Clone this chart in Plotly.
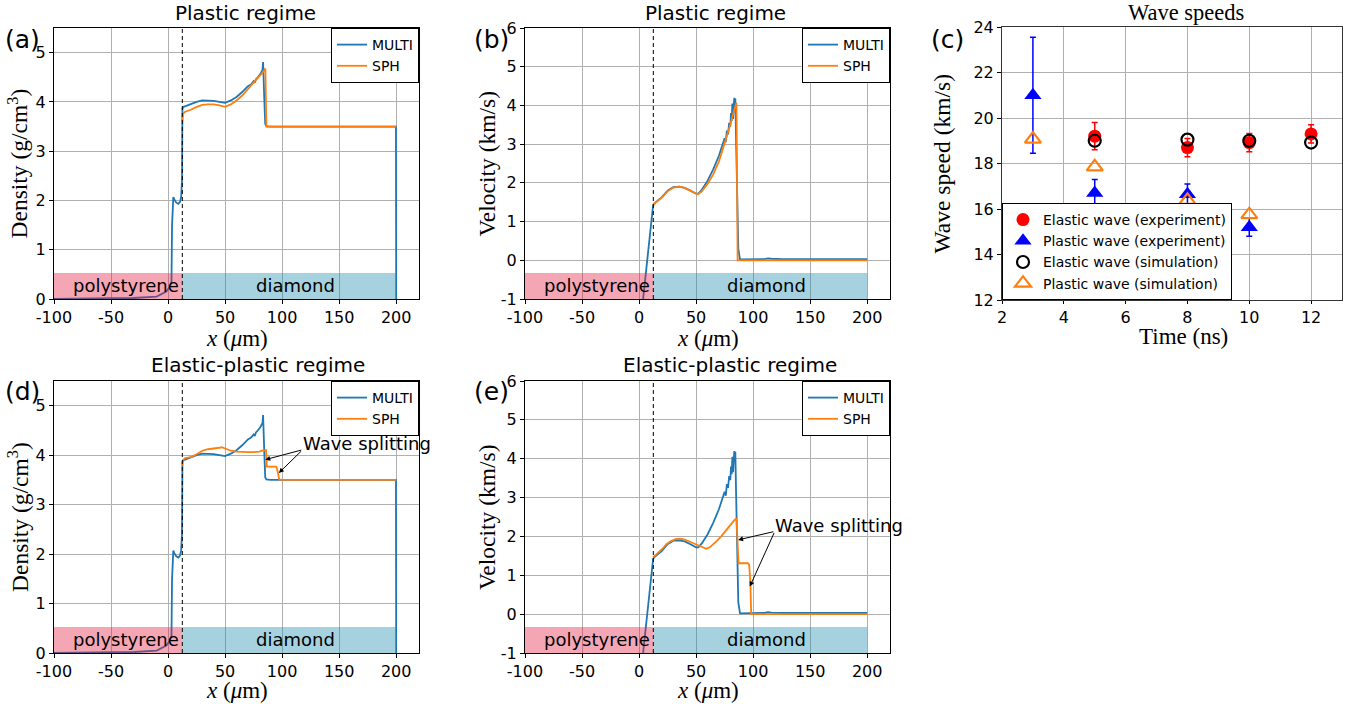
import plotly.graph_objects as go

# ---------------- data: panels (a)/(d) density ----------------
x_multi_rho = [-100, -60, -30, -10, -1.5, 1.5, 3.0, 3.5, 4.0, 4.6, 5.5, 7, 9, 10.5, 11.5, 12.2,
               12.6, 13.5, 16, 20, 25, 30, 35, 40, 45, 50, 55, 60, 65, 70, 73, 75, 76, 77, 78,
               79, 80, 81, 82, 82.8, 83.3, 83.7, 84.3, 85.2, 86.2, 90, 110, 150, 199.8, 200]
rho_multi = [0.0, 0.01, 0.02, 0.05, 0.15, 0.25, 0.35, 1.5, 2.02, 2.07, 2.02, 1.96, 1.93, 1.97, 2.08, 2.4,
             3.86, 3.9, 3.92, 3.96, 4.0, 4.03, 4.03, 4.02, 4.0, 3.98, 4.03, 4.1, 4.2, 4.32, 4.36, 4.42, 4.39, 4.46, 4.48,
             4.5, 4.54, 4.57, 4.62, 4.65, 4.81, 4.62, 4.1, 3.55, 3.51, 3.5, 3.5, 3.5, 3.5, 0.0]

x_sph_rho_a = [12.5, 13.0, 15, 20, 25, 30, 35, 40, 45, 50, 55, 60, 65, 70, 75, 80, 83, 85.3, 86.2, 100, 200]
rho_sph_a = [3.6, 3.76, 3.8, 3.84, 3.9, 3.94, 3.95, 3.95, 3.93, 3.9, 3.95, 4.03, 4.13, 4.26, 4.38, 4.52, 4.6, 4.68, 3.5, 3.5, 3.5]

x_sph_rho_d = [12.5, 13.0, 15, 20, 25, 30, 35, 40, 45, 47, 50, 55, 60, 65, 70, 75, 80, 84, 86,
               86.6, 87.2, 94.8, 95.6, 97.5, 100, 200]
rho_sph_d = [3.8, 3.9, 3.94, 3.96, 4.02, 4.09, 4.12, 4.13, 4.15, 4.16, 4.13, 4.09, 4.07, 4.06, 4.06, 4.06, 4.07, 4.1, 4.1,
             3.77, 3.77, 3.77, 3.72, 3.51, 3.5, 3.5]

# ---------------- data: panels (b)/(e) velocity ----------------
x_multi_vel = [3.0, 12.3, 13.5, 16, 20, 25, 30, 35, 40, 45, 50, 52, 55, 60, 65, 70, 73, 75, 76, 77, 78, 79, 80,
               80.6, 81.2, 81.8, 82.4, 83, 83.5, 84, 84.4, 85, 86, 87, 88.5, 95, 110, 113, 116, 125, 200]
vel_multi = [-1.15, 1.42, 1.47, 1.53, 1.63, 1.8, 1.89, 1.9, 1.87, 1.8, 1.72, 1.72, 1.82, 2.05, 2.35, 2.7, 2.95, 3.15,
             3.05, 3.35, 3.25, 3.55, 3.45, 3.8, 3.6, 4.05, 3.65, 4.0, 4.2, 3.95, 4.18, 3.2, 1.5, 0.3, 0.02, 0.02, 0.03,
             0.05, 0.04, 0.03, 0.03]

x_sph_vel_b = [12.3, 14, 17, 20, 25, 30, 35, 40, 45, 50, 52, 55, 60, 65, 70, 75, 80, 83, 85.4, 86.4, 90, 200]
vel_sph_b = [1.42, 1.48, 1.55, 1.62, 1.78, 1.88, 1.9, 1.87, 1.8, 1.72, 1.71, 1.78, 1.97, 2.22, 2.55, 3.0, 3.5, 3.85,
             4.07, 0.0, 0.0, 0.0]

x_sph_vel_e = [12.3, 15, 18, 21, 24, 28, 32, 36, 40, 44, 48, 52, 56, 59, 62, 65, 68, 72, 76, 80, 83, 85.4,
               86.6, 87.2, 95.4, 96.5, 97.6, 98.3, 100, 200]
vel_sph_e = [1.46, 1.53, 1.6, 1.7, 1.8, 1.88, 1.93, 1.94, 1.92, 1.87, 1.82, 1.77, 1.71, 1.68, 1.72, 1.79, 1.88,
             2.0, 2.15, 2.3, 2.4, 2.47, 1.9, 1.31, 1.31, 1.28, 0.8, 0.0, 0.0, 0.0]

# ---------------- data: panel (c) wave speeds ----------------
t_elastic_exp = [5, 8, 10, 12]
v_elastic_exp = [19.2, 18.7, 18.92, 19.3]
e_elastic_exp = [0.6, 0.4, 0.4, 0.4]
t_plastic_exp = [3, 5, 8, 10]
v_plastic_exp = [21.0, 16.7, 16.65, 15.2]
e_plastic_exp = [2.55, 0.6, 0.45, 0.4]
t_elastic_sim = [5, 8, 10, 12]
v_elastic_sim = [19.0, 19.05, 19.0, 18.92]
t_plastic_sim = [3, 5, 8, 10]
v_plastic_sim = [19.07, 17.85, 16.38, 15.75]

x_ticks = [-100, -50, 0, 50, 100, 150, 200]
x_ticktext = ["-100", "-50", "0", "50", "100", "150", "200"]
rho_ticks = [0, 1, 2, 3, 4, 5]
vel_ticks = [-1, 0, 1, 2, 3, 4, 5, 6]
vel_ticktext = ["-1", "0", "1", "2", "3", "4", "5", "6"]
time_ticks = [2, 4, 6, 8, 10, 12]
speed_ticks = [12, 14, 16, 18, 20, 22, 24]
interface_x = 12.5
target_end = 200

W, H = 1367, 704
BLUE = "#1f77b4"
ORANGE = "#ff7f0e"
SANS = "DejaVu Sans"
SERIF = "Liberation Serif"

def px(x):
    return x / W

def py(y):
    return 1 - y / H

fig = go.Figure()

# subplot geometry in pixels: (left, right, top, bottom)
boxes = {
    "a": (54, 419, 28, 299),
    "b": (525, 890, 28, 299),
    "c": (1002, 1342, 27, 300),
    "d": (54, 419, 381, 653),
    "e": (525, 890, 381, 653),
}
axis_ids = {"a": "", "b": "2", "c": "3", "d": "4", "e": "5"}

def add_line(key, x, y, name, color, show=True):
    i = axis_ids[key]
    fig.add_trace(go.Scatter(x=x, y=y, mode="lines", name=name,
                             line=dict(color=color, width=1.8),
                             xaxis="x" + i, yaxis="y" + i,
                             legend="legend" + i, showlegend=show))

add_line("a", x_multi_rho, rho_multi, "MULTI", BLUE)
add_line("a", x_sph_rho_a, rho_sph_a, "SPH", ORANGE)
add_line("b", x_multi_vel, vel_multi, "MULTI", BLUE)
add_line("b", x_sph_vel_b, vel_sph_b, "SPH", ORANGE)
add_line("d", x_multi_rho, rho_multi, "MULTI", BLUE)
add_line("d", x_sph_rho_d, rho_sph_d, "SPH", ORANGE)
add_line("e", x_multi_vel, vel_multi, "MULTI", BLUE)
add_line("e", x_sph_vel_e, vel_sph_e, "SPH", ORANGE)

# panel (c)
fig.add_trace(go.Scatter(x=t_elastic_exp, y=v_elastic_exp, mode="markers", name="Elastic wave (experiment)",
                         marker=dict(symbol="circle", size=13, color="red"),
                         error_y=dict(type="data", array=e_elastic_exp, color="red", thickness=1.5, width=3),
                         xaxis="x3", yaxis="y3", legend="legend3"))
fig.add_trace(go.Scatter(x=t_plastic_exp, y=v_plastic_exp, mode="markers", name="Plastic wave (experiment)",
                         marker=dict(symbol="triangle-up", size=15, color="blue"),
                         error_y=dict(type="data", array=e_plastic_exp, color="blue", thickness=1.5, width=3),
                         xaxis="x3", yaxis="y3", legend="legend3"))
fig.add_trace(go.Scatter(x=t_elastic_sim, y=v_elastic_sim, mode="markers", name="Elastic wave (simulation)",
                         marker=dict(symbol="circle-open", size=12, color="black", line=dict(width=2.2)),
                         xaxis="x3", yaxis="y3", legend="legend3"))
fig.add_trace(go.Scatter(x=t_plastic_sim, y=v_plastic_sim, mode="markers", name="Plastic wave (simulation)",
                         marker=dict(symbol="triangle-up-open", size=14, color=ORANGE, line=dict(width=2.2)),
                         xaxis="x3", yaxis="y3", legend="legend3"))

axis_common = dict(showline=True, linecolor="black", linewidth=1, mirror=True, ticks="outside",
                   ticklen=4, tickcolor="black", showgrid=True, gridcolor="#b0b0b0", gridwidth=1,
                   zeroline=False, automargin=False, tickfont=dict(family=SANS, size=16, color="black"))

layout = dict(width=W, height=H, margin=dict(l=0, r=0, t=0, b=0, pad=0, autoexpand=False),
              paper_bgcolor="white", plot_bgcolor="white", showlegend=True)

yranges = {"a": [0, 5.5], "b": [-1, 6], "d": [0, 5.5], "e": [-1, 6]}

for key, (l, r, t, b) in boxes.items():
    i = axis_ids[key]
    xd = [px(l), px(r)]
    yd = [py(b), py(t)]
    if key == "c":
        xa = dict(axis_common, domain=xd, anchor="y3", range=[2, 13], tickvals=time_ticks,
                  linecolor="#333", ticklen=3)
        ya = dict(axis_common, domain=yd, anchor="x3", range=[12, 24], tickvals=speed_ticks,
                  linecolor="#333")
    else:
        xa = dict(axis_common, domain=xd, anchor="y" + i, range=[-100, 220], tickvals=x_ticks,
                  ticktext=x_ticktext)
        if key in ("a", "d"):
            ya = dict(axis_common, domain=yd, anchor="x" + i, range=yranges[key], tickvals=rho_ticks)
        else:
            ya = dict(axis_common, domain=yd, anchor="x" + i, range=yranges[key], tickvals=vel_ticks,
                      ticktext=vel_ticktext)
    layout["xaxis" + i] = xa
    layout["yaxis" + i] = ya

# legends
leg_common = dict(bgcolor="white", bordercolor="black", borderwidth=1,
                  font=dict(family=SANS, size=14, color="black"), tracegroupgap=0)
for key in ["a", "b", "d", "e"]:
    l, r, t, b = boxes[key]
    layout["legend" + axis_ids[key]] = dict(leg_common, x=px(r), y=py(t), xanchor="right", yanchor="top")
layout["legend3"] = dict(leg_common, x=px(boxes["c"][0]), y=py(boxes["c"][3]), xanchor="left",
                         yanchor="bottom", itemsizing="trace",
                         font=dict(family=SANS, size=14, color="black"))

fig.update_layout(**layout)

# shapes: material bands and interface line
shapes = []
annotations = []
for key in ["a", "b", "d", "e"]:
    i = axis_ids[key]
    xr = "x" + i
    ydom = "y" + i + " domain"
    shapes.append(dict(type="rect", xref=xr, yref=ydom, x0=-100, x1=interface_x, y0=0, y1=0.096,
                       fillcolor="rgba(228,33,68,0.4)", line=dict(width=0), layer="above"))
    shapes.append(dict(type="rect", xref=xr, yref=ydom, x0=interface_x, x1=target_end, y0=0, y1=0.096,
                       fillcolor="rgba(32,142,177,0.4)", line=dict(width=0), layer="above"))
    shapes.append(dict(type="line", xref=xr, yref=ydom, x0=interface_x, x1=interface_x, y0=0, y1=1,
                       line=dict(color="black", width=1, dash="4px,3px"), layer="above"))
    annotations.append(dict(text="polystyrene", x=-37, xref=xr, y=0.05, yref=ydom, showarrow=False,
                            xanchor="center", yanchor="middle", font=dict(family=SANS, size=18, color="black")))
    annotations.append(dict(text="diamond", x=112, xref=xr, y=0.05, yref=ydom, showarrow=False,
                            xanchor="center", yanchor="middle", font=dict(family=SANS, size=18, color="black")))

# wave splitting annotations
def splitting(i, text_xy, tail, heads):
    xr, yr = "x" + i, "y" + i
    annotations.append(dict(text="Wave splitting", x=text_xy[0], y=text_xy[1], xref=xr, yref=yr,
                            showarrow=False, xanchor="left", yanchor="middle",
                            font=dict(family=SANS, size=18, color="black")))
    for hx, hy in heads:
        annotations.append(dict(text="", x=hx, y=hy, xref=xr, yref=yr, ax=tail[0], ay=tail[1],
                                axref=xr, ayref=yr, showarrow=True, arrowhead=2, arrowsize=1,
                                arrowwidth=1, arrowcolor="black", standoff=0, startstandoff=0))

splitting("4", (116.5, 4.24), (118, 4.11), [(85.2, 3.91), (97.1, 3.64)])
splitting("5", (117, 2.28), (119, 2.13), [(86.8, 1.91), (97.1, 0.71)])

# titles, axis titles, panel labels
def ann(text, x, y, size, family, angle=0):
    annotations.append(dict(text=text, x=px(x), y=py(y), xref="paper", yref="paper", showarrow=False,
                            xanchor="center", yanchor="middle", textangle=angle,
                            font=dict(family=family, size=size, color="black")))

ann("Plastic regime", 245, 13, 20, SANS)
ann("Plastic regime", 715, 13, 20, SANS)
ann("Wave speeds", 1186, 13, 22.5, SERIF)
ann("Elastic-plastic regime", 258, 365, 20, SANS)
ann("Elastic-plastic regime", 730, 365, 20, SANS)

ann("(a)", 22, 39, 25, SANS)
ann("(b)", 491, 39, 25, SANS)
ann("(c)", 947, 39, 25, SANS)
ann("(d)", 22, 392, 25, SANS)
ann("(e)", 491, 392, 25, SANS)

ann("Density (g/cm<sup>3</sup>)", 18, 163.5, 23.5, SERIF, -90)
ann("Velocity (km/s)", 487, 163.5, 23.5, SERIF, -90)
ann("Wave speed (km/s)", 942, 163.5, 23.5, SERIF, -90)
ann("Density (g/cm<sup>3</sup>)", 18, 517, 23.5, SERIF, -90)
ann("Velocity (km/s)", 487, 517, 23.5, SERIF, -90)

ann("<i>x</i> (<i>μ</i>m)", 236.5, 338, 23, SERIF)
ann("<i>x</i> (<i>μ</i>m)", 707.5, 338, 23, SERIF)
ann("Time (ns)", 1183, 336, 23, SERIF)
ann("<i>x</i> (<i>μ</i>m)", 236.5, 690, 23, SERIF)
ann("<i>x</i> (<i>μ</i>m)", 707.5, 690, 23, SERIF)

fig.update_layout(shapes=shapes, annotations=annotations)

fig.write_html("out.html", config={"displayModeBar": False},
               post_script="document.body.style.margin='0';document.body.style.overflow='hidden';")
